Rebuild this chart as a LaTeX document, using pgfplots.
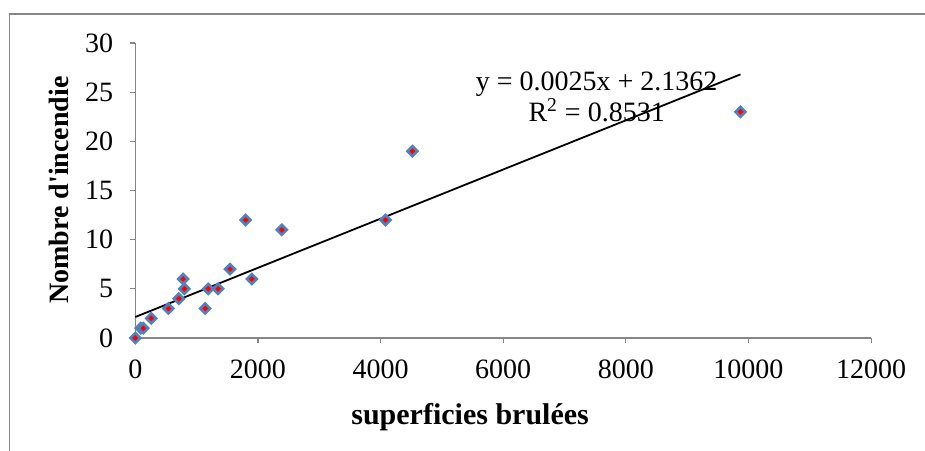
\documentclass[border=0pt]{standalone}
\usepackage{fontspec}
\setmainfont{Liberation Serif}
\usepackage{pgfplots}
\pgfplotsset{compat=1.18}

\definecolor{excelblue}{RGB}{79,129,189}
\definecolor{axisgray}{RGB}{134,134,134}

\begin{document}
\begin{tikzpicture}
\useasboundingbox (0,0) rectangle (462.5pt,225pt);
\draw[axisgray, line width=0.6pt] (4.65pt,-2pt) -- (4.65pt,218pt) -- (470pt,218pt);
\begin{axis}[
  at={(67.65pt,56pt)}, anchor=south west,
  scale only axis,
  width=367.9pt, height=147.5pt,
  xmin=0, xmax=12000, ymin=0, ymax=30,
  xtick={0,2000,...,12000}, ytick={0,5,...,30},
  scaled ticks=false,
  axis x line=bottom, axis y line=left,
  axis line style={-, axisgray, line width=0.6pt},
  tick style={axisgray, line width=0.6pt},
  tick align=outside, major tick length=2.5pt,
  /pgf/number format/1000 sep={},
  /pgf/number format/assume math mode=true,
  ticklabel style={font=\fontsize{14}{16}\selectfont},
  xticklabel style={yshift=-5pt},
  yticklabel style={xshift=-5pt},
  xlabel={superficies brulées},
  ylabel={Nombre d\textquotesingle incendie},
  label style={font=\fontsize{14}{16}\selectfont\bfseries},
  xlabel style={at={(axis description cs:0.455,-0.268)}, anchor=center,
    font=\fontsize{15}{17}\selectfont\bfseries},
  ylabel style={at={(axis description cs:-0.104,0.502)}, anchor=center},
  clip=false,
]
\addplot[only marks, mark=square*, mark size=1.75pt,
  mark options={rotate=45, draw=excelblue, fill=red, line width=1.3pt}]
  coordinates {
  (0,0)(90,1)(130,1)(260,2)(540,3)(710,4)(780,6)(800,5)
  (1140,3)(1190,5)(1350,5)(1545,7)(1800,12)(1900,6)(2390,11)
  (4080,12)(4520,19)(9870,23)};
\addplot[black, line width=0.9pt] coordinates {(0,2.1362)(9870,26.8112)};
\node[align=center, font=\fontsize{14}{15.5}\selectfont] at (axis cs:7524,24.5)
  {y = 0.0025x + 2.1362\\R\textsuperscript{2} = 0.8531};
\end{axis}
\end{tikzpicture}
\end{document}
